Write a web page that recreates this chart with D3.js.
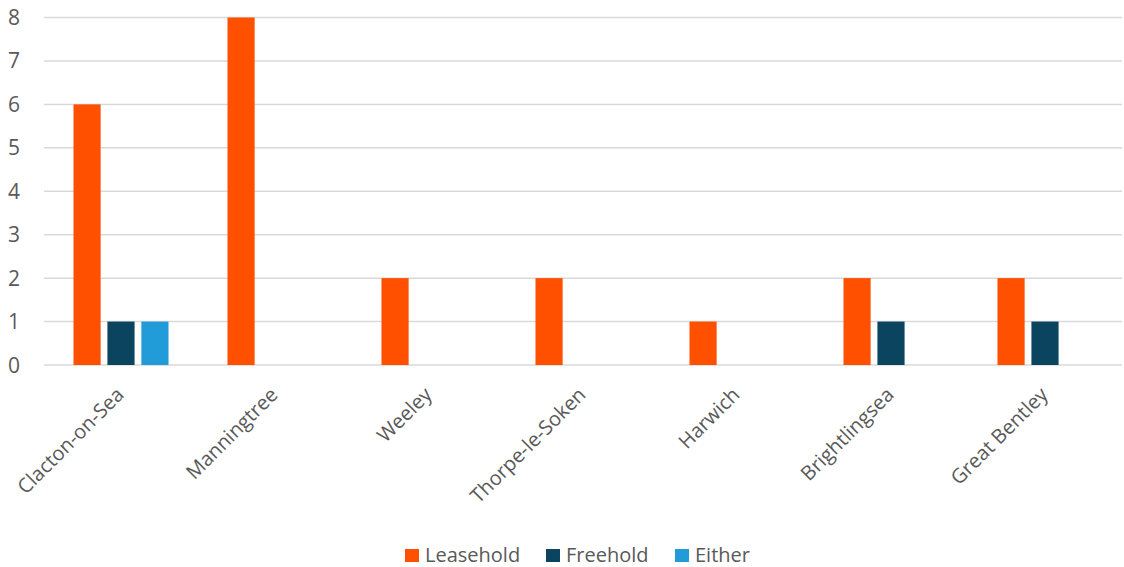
<!DOCTYPE html>
<html><head><meta charset="utf-8">
<script src="https://cdn.jsdelivr.net/npm/d3@7"></script>
<style>body{margin:0;background:#fff}svg{display:block}text{font-family:"Open Sans",sans-serif;fill:#595959}</style>
</head><body><svg id="c" width="1124" height="567"></svg>
<script>
const categories = ["Clacton-on-Sea","Manningtree","Weeley","Thorpe-le-Soken","Harwich","Brightlingsea","Great Bentley"];
const seriesNames = ["Leasehold","Freehold","Either"];
const leasehold = [6,8,2,2,1,2,2];
const freehold = [1,0,0,0,0,1,1];
const either = [1,0,0,0,0,0,0];
const yTicks = [0,1,2,3,4,5,6,7,8];
const colors = ["#FF5000","#0B445E","#219CD8"];
const values = [leasehold, freehold, either];

(function(){
const svg = d3.select("#c");
const pLeft = 44, pRight = 1122, pTop = 17.5, pBottom = 365;
const x = d3.scaleBand().domain(categories).range([pLeft, pRight]).paddingInner(0.383).paddingOuter(0.1915);
const xs = d3.scaleBand().domain(seriesNames).range([0, x.bandwidth()]).paddingInner(0.2);
const y = d3.scaleLinear().domain([0,8]).range([pBottom, pTop]);

svg.append("g").selectAll("line").data(yTicks).join("line")
  .attr("x1", pLeft).attr("x2", pRight).attr("y1", d=>y(d)).attr("y2", d=>y(d))
  .attr("stroke", "#d9d9d9").attr("stroke-width", 1.5);

svg.append("g").selectAll("text").data(yTicks).join("text")
  .attr("x", 20).attr("y", d=>y(d)+7.5).attr("text-anchor","end")
  .attr("font-size", 21).text(d=>d);

seriesNames.forEach((s,i)=>{
  svg.append("g").selectAll("rect").data(categories.map((c,j)=>({c,v:values[i][j]})).filter(d=>d.v>0)).join("rect")
    .attr("x", d=>x(d.c)+xs(s)).attr("width", xs.bandwidth())
    .attr("y", d=>y(d.v)).attr("height", d=>y(0)-y(d.v))
    .attr("fill", colors[i]);
});

svg.append("g").selectAll("text").data(categories).join("text")
  .attr("transform", d=>`translate(${x(d)+x.bandwidth()/2+4},${pBottom+31}) rotate(-45)`)
  .attr("text-anchor","end").attr("font-size", 20).text(d=>d);

const legendX = [405, 546, 675];
const lg = svg.append("g");
seriesNames.forEach((s,i)=>{
  lg.append("rect").attr("x", legendX[i]).attr("y", 549).attr("width", 14).attr("height", 13).attr("fill", colors[i]);
  lg.append("text").attr("x", legendX[i]+20).attr("y", 562).attr("font-size", 20).text(s);
});
})();
</script></body></html>
